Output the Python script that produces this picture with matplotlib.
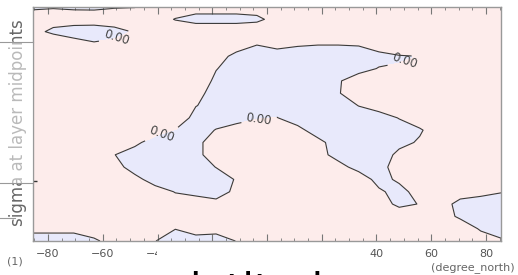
import numpy as np
import matplotlib.pyplot as plt
from matplotlib.patches import Rectangle
from matplotlib.lines import Line2D
from matplotlib.ticker import MultipleLocator

# grid of the field (latitude x sigma layer midpoints)
latitudes = [-85.5, -78.1, -70.6, -63.2, -55.8, -48.3, -40.9, -33.5, -26.0, -18.6, -11.2, -3.7,
             3.7, 11.2, 18.6, 26.0, 33.5, 40.9, 48.3, 55.8, 63.2, 70.6, 78.1, 85.5]
sigma_levels = [0.025, 0.075, 0.125, 0.175, 0.225, 0.275, 0.325, 0.375, 0.425, 0.475,
                0.525, 0.575, 0.625, 0.675, 0.725, 0.775, 0.825, 0.875, 0.925, 0.975]

field = [
    [-0.3, -0.3, -0.3, -0.3, -0.2, -0.05, 1, 1.3, 1.3, 1.3, 1.3, 1.3, 1, 1, 1, 1, 1, 1, 1, 1, 1, 1, 1, 1],
    [1, 2, 1, 0.9, 1.7, 1, 1, -0.1, -1, -1, -1, -0.6, 1, 1, 1, 1, 1, 1, 1, 1, 1, 1, 1, 1],
    [1.5, -1, -1, -1, -1, 0.25, 1, 1.5, 2, 2, 2, 2, 1, 1, 1, 1, 1, 1, 1, 1, 1, 1, 1, 1],
    [1, 4, 0.9, 0.2, 0.7, 1, 1, 1, 1, 1, 1.9, 0.1, 0.7, 0.25, 0.1, 0.1, 0.2, 1.8, 3.5, 1, 1, 1, 1, 1],
    [1, 1, 1, 1, 1, 1, 1, 1, 1, 1.5, -1, -1, -1, -1, -1, -1, -1, -1, -0.3, 0.05, 1, 1, 1, 1],
    [1, 1, 1, 1, 1, 1, 1, 1, 1, 0.1, -1, -1, -1, -1, -1, -1, -1, 0.15, 0.25, 1, 1, 1, 1, 1],
    [1, 1, 1, 1, 1, 1, 1, 1, 1.6, -0.5, -1, -1, -1, -1, -1, -0.3, 1.5, 1, 1, 1, 1, 1, 1, 1],
    [1, 1, 1, 1, 1, 1, 1, 1, 0.8, -1, -1, -1, -1, -1, -1, -0.3, 2.4, 1, 1, 1, 1, 1, 1, 1],
    [1, 1, 1, 1, 1, 1, 1, 1, 0.1, -1, -1, -1, -1, -1, -1, -1, 0.05, 1, 1, 1, 1, 1, 1, 1],
    [1, 1, 1, 1, 1, 1, 1, 2.1, -1, -1, -1, -0.15, 0.05, -1, -1, -1, -1, -1, 0.1, 1, 1, 1, 1, 1],
    [1, 1, 1, 1, 1, 1, 1, -0.1, -1, 0.1, 1.1, 1.2, 1, 0.6, -1, -1, -1, -1, -1, -0.2, 1, 1, 1, 1],
    [1, 1, 1, 1, 1, 0.5, -1, -1, -1, 1.85, 1, 1, 1, 1, 0.6, -1, -1, -1, -0.5, 0.2, 1, 1, 1, 1],
    [1, 1, 1, 1, 0.05, -1, -1, -1, -1, 1.85, 1, 1, 1, 1, 1, -1, -1, -1, 0.45, 1, 1, 1, 1, 1],
    [1, 1, 1, 1, 0.9, -1, -1, -1, -1, 0.05, 1, 1, 1, 1, 1, 1, -1, -1, 1.3, 1, 1, 1, 1, 1],
    [1, 1, 1, 1, 1, 0.7, -1, -1, -1, -1, 0.15, 1, 1, 1, 1, 1, 1.7, -1, 0.5, 1, 1, 1, 1, 1],
    [1, 1, 1, 1, 1, 1, 1, -0.1, -1, -1, 0.5, 1, 1, 1, 1, 1, 1, 0.45, -1, 1.2, 1, 1.45, 0.6, 0.1],
    [1, 1, 1, 1, 1, 1, 1, 1, 1.9, 0.7, 1, 1, 1, 1, 1, 1, 1, 1, -0.5, 0.08, 1.45, -1, -1, -1],
    [1, 1, 1, 1, 1, 1, 1, 1, 1, 1, 1, 1, 1, 1, 1, 1, 1, 1, 1.4, 1, 0.85, -0.3, -1, -1],
    [0.55, 0.55, 0.55, 1.6, 1, 1, 1, 0.05, 1.05, 0.75, 1, 1, 1, 1, 1, 1, 1, 1, 1, 1, 1, 1.1, -0.2, -1],
    [-1, -1, -1, -0.5, 1.2, 1, 0.05, -1, -1, -1, 0.05, 1, 1, 1, 1, 1, 1, 1, 1, 1, 1, 1, 0.85, 0.3],
]

x_ticks = [-80, -60, -40, -20, 0, 20, 40, 60, 80]

W, H = 518, 275


def fx(px):
    return px / W


def fy(py):
    # py counted from the top of the picture
    return (H - py) / H


fig = plt.figure(figsize=(W / 100, H / 100), dpi=100)
ax = fig.add_axes([fx(33), fy(241), fx(501) - fx(33), fy(7) - fy(241)])

lat = np.array(latitudes)
sig = np.array(sigma_levels)
z = np.array(field)

ax.contourf(lat, sig, z, levels=[-10, 0, 10], colors=['#e8e9fb', '#fdeceb'])
cs = ax.contour(lat, sig, z, levels=[0], colors='#3a3a3a', linewidths=0.8)
ax.clabel(cs, fmt='%.2f', fontsize=8.5, colors='#444444', inline=True,
          manual=[(-54.8, 0.155), (-38.0, 0.557), (-2.9, 0.484), (50.4, 0.244)])

ax.set_xlim(-85.5, 85.5)
ax.set_ylim(0.975, 0.025)
ax.set_xticks(x_ticks)
ax.set_xticklabels([str(t).replace('-', '\u2212') for t in x_ticks])
ax.xaxis.set_minor_locator(MultipleLocator(5))
ax.set_yticks([0.73])
ax.set_yticklabels([])
ax.tick_params(axis='x', which='major', direction='in', top=True, length=5, width=0.8,
               color='#777777', labelcolor='#555555', labelsize=8, pad=6)
ax.tick_params(axis='x', which='minor', direction='in', top=True, length=2.5, width=0.6,
               color='#777777')
ax.tick_params(axis='y', direction='in', length=3, width=1, color='#333333')
for s in ax.spines.values():
    s.set_color('#999999')
    s.set_linewidth(1)

fig.text(fx(18), fy(123), 'sigma at layer midpoints', rotation=90, fontsize=12,
         color='#666666', ha='center', va='center')

# white panel lying over the left side of the label
fig.add_artist(Rectangle((0, fy(183)), fx(33), fy(42) - fy(183), transform=fig.transFigure,
                         facecolor='white', alpha=0.55, edgecolor='none', zorder=5))
for yy, x1 in [(42, 33), (183, 33), (218, 15)]:
    fig.add_artist(Line2D([0, fx(x1)], [fy(yy), fy(yy)], transform=fig.transFigure,
                          color='#999999', lw=0.8, zorder=6))

# white panel hiding the middle tick labels, with the big axis title
fig.add_artist(Rectangle((fx(157), 0), fx(360) - fx(157), fy(244), transform=fig.transFigure,
                         facecolor='white', edgecolor='none', zorder=5))
fig.text(fx(269), fy(270), 'latitude', fontsize=30, color='black', ha='center', va='top', zorder=7)

fig.text(fx(15), fy(262), '(1)', fontsize=8, color='#666666', ha='center', va='center')
fig.text(fx(515), fy(268), '(degree_north)', fontsize=8, color='#666666', ha='right', va='center')

fig.savefig('out.png', dpi=100)
